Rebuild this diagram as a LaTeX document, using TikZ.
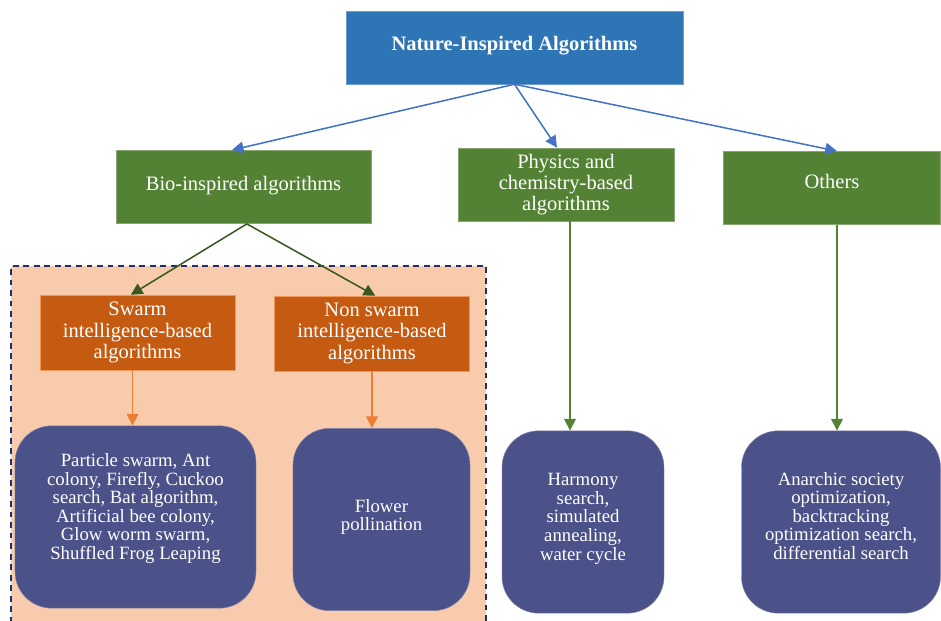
\documentclass[tikz,border=0pt]{standalone}
\usepackage{fontspec}
\setmainfont{Liberation Serif}
\usepackage{xcolor}
\definecolor{topblue}{HTML}{2E75B6}
\definecolor{leafgreen}{HTML}{548235}
\definecolor{darkgreen}{HTML}{385723}
\definecolor{rust}{HTML}{C55A11}
\definecolor{peach}{HTML}{F8CBAD}
\definecolor{carrot}{HTML}{ED7D31}
\definecolor{slate}{HTML}{4B5189}
\definecolor{navy}{HTML}{1F2F6B}
\definecolor{linkblue}{HTML}{4472C4}
\usetikzlibrary{arrows.meta,positioning}
\tikzset{
    box/.style ={rectangle, inner sep=0pt, text=white, align=center,
                 font=\fontsize{17.5}{18}\selectfont},
    cat/.style ={box, fill=leafgreen, draw=leafgreen!70!white, minimum height=2.2cm},
    grp/.style ={box, fill=rust, draw=carrot!80!white, minimum width=5.86cm, minimum height=2.25cm},
    leaf/.style ={box, fill=slate, draw=slate!70!white, rounded corners=1.1cm, minimum height=5.47cm,
                  font=\fontsize{16}{15.8}\selectfont},
    tip/.style ={-{Triangle[length=10pt,width=10pt]}, line width=1.3pt}
}
\begin{document}
\begin{tikzpicture}[x=0.03cm,y=-0.03cm]
      \useasboundingbox (0,0) rectangle (941,621);
      % shaded group of bio-inspired subclasses
      \fill[peach] (11,266) rectangle (486,621);
      \draw[navy, dashed, line width=1.4pt, dash pattern=on 5pt off 4pt] (486,621) -- (486,266) -- (11,266) -- (11,621);

      \node[box, fill=topblue, draw=topblue!70!white, minimum width=10.11cm, minimum height=2.19cm,
            font=\fontsize{17.5}{18}\selectfont\bfseries] (nia) at (514.5,47.5) {Nature-Inspired Algorithms\\[-11pt]};

      \node[cat, minimum width=7.65cm] (bio) at (243.5,187) {Bio-inspired algorithms\\[-12pt]};
      \node[cat, minimum width=6.48cm] (phy) at (566,184.5) {Physics and\\chemistry-based\\algorithms};
      \node[cat, minimum width=6.51cm] (oth) at (832,188) {Others\\[-7pt]};

      \node[grp] (swarm) at (137.5,332.5) {Swarm\\intelligence-based\\algorithms};
      \node[grp] (nonswarm) at (372,333.5) {Non swarm\\intelligence-based\\algorithms};

      \node[leaf, minimum width=7.23cm] (pso) at (135.5,517) {Particle swarm, Ant\\colony, Firefly, Cuckoo\\search, Bat algorithm,\\Artificial bee colony,\\Glow worm swarm,\\Shuffled Frog Leaping\\[2pt]};
      \node[leaf, minimum width=5.31cm] (fpa) at (381.5,519.5) {Flower\\pollination\\[-8pt]};
      \node[leaf, minimum width=4.86cm] (hs) at (583,522) {Harmony\\search,\\simulated\\annealing,\\water cycle\\[-7pt]};
      \node[leaf, minimum width=5.97cm] (aso) at (841,522) {Anarchic society\\optimization,\\backtracking\\optimization search,\\differential search\\[-5pt]};

      \path[linkblue, tip] (nia.south) edge ([xshift=-0.35cm]bio.north)
                           (nia.south) edge ([xshift=-0.27cm]phy.north)
                           (nia.south) edge ([xshift=0.15cm]oth.north);
      \path[darkgreen, tip] ([xshift=0.1cm]bio.south) edge ([xshift=-0.2cm]swarm.north)
                            ([xshift=0.1cm]bio.south) edge ([xshift=0.1cm]nonswarm.north);
      \path[carrot, tip] ([xshift=-0.15cm]swarm.south) edge ([xshift=-0.15cm]swarm.south |- pso.north)
                         (nonswarm.south) edge (nonswarm.south |- fpa.north);
      \path[leafgreen, tip] ([xshift=0.12cm]phy.south) edge ([xshift=0.12cm]phy.south |- hs.north)
                            ([xshift=0.15cm]oth.south) edge ([xshift=0.15cm]oth.south |- aso.north);
\end{tikzpicture}
\end{document}
